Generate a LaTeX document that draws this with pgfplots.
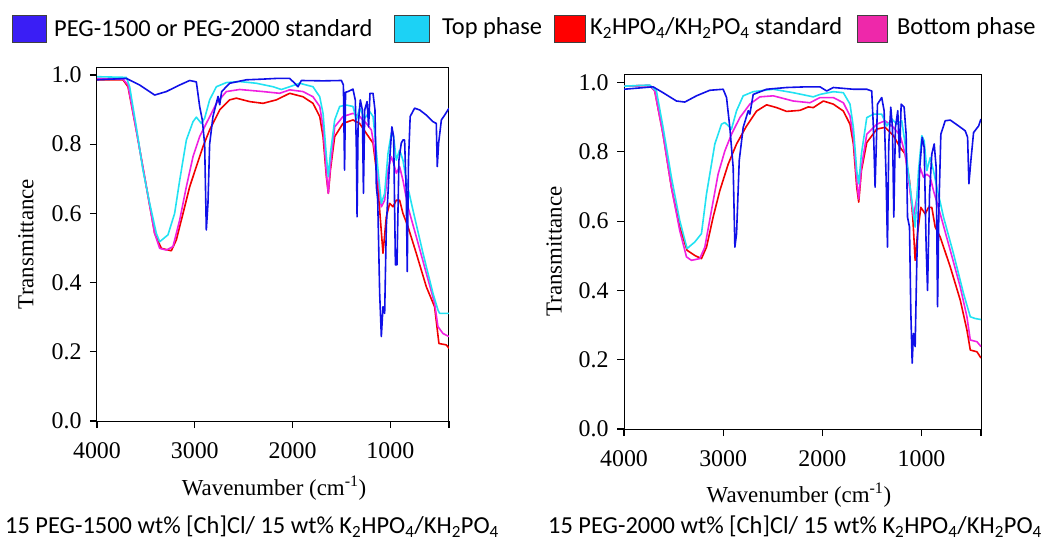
\documentclass[border=0pt]{standalone}
\usepackage{fontspec}
\setmainfont{Liberation Serif}
\newfontfamily\sansf{Carlito}
\usepackage{pgfplots}
\pgfplotsset{compat=1.18}
\definecolor{cBlue}{HTML}{1010E8}
\definecolor{cCyan}{HTML}{22E2F2}
\definecolor{cRed}{HTML}{F20000}
\definecolor{cMag}{HTML}{F020E0}
\definecolor{bBlue}{HTML}{3A1EF5}
\definecolor{bCyan}{HTML}{1CD2F5}
\definecolor{bRed}{HTML}{FF0000}
\definecolor{bMag}{HTML}{EE28AA}
\pgfplotsset{ftir/.style={
  scale only axis,
  xmin=400, xmax=4000, x dir=reverse, ymin=0,
  xtick={4000,3000,2000,1000,400}, xticklabels={4000,3000,2000,1000,{}},
  ytick={0,0.2,0.4,0.6,0.8,1.0}, yticklabels={0.0,0.2,0.4,0.6,0.8,1.0},
  axis line style={black, line width=1bp},
  every tick label/.append style={font=\fontsize{24}{27}\selectfont},
  label style={font=\fontsize{23}{26}\selectfont},
  ylabel={Transmittance},
  xlabel={Wavenumber (cm\textsuperscript{-1})},
  every axis plot/.append style={line width=1.6bp, line join=round},
}}
\begin{document}
\begin{tikzpicture}
\path[use as bounding box] (0,0) rectangle (1041bp,-542bp);
% ---------------- left panel
\begin{axis}[ftir, at={(97bp,-421bp)}, anchor=south west,
  width=352bp, height=354bp, ymax=1.023,
  tick pos=left, tick align=outside, major tick length=7bp,
  tick style={black, line width=1.1bp},
  xticklabel style={yshift=-11bp}, yticklabel style={xshift=-5bp},
  ylabel style={at={(axis description cs:-0.202,0.5)}, anchor=center},
  xlabel style={at={(axis description cs:0.503,-0.189)}, anchor=center}]
\addplot[cRed] coordinates {
(4000,0.986)(3734,0.986)(3683,0.966)(3598,0.84)(3495,0.677)(3410,0.542)(3342,0.499)(3240,0.492)(3189,0.523)(3120,0.60)(3052,0.677)(2984,0.735)(2916,0.793)(2848,0.841)(2745,0.899)(2643,0.928)(2575,0.933)(2439,0.923)(2302,0.918)(2166,0.928)(2029,0.947)(1893,0.937)(1791,0.918)(1722,0.88)(1688,0.822)(1654,0.706)(1634,0.658)(1613,0.725)(1569,0.822)(1484,0.86)(1382,0.87)(1314,0.86)(1245,0.831)(1177,0.803)(1143,0.725)(1109,0.61)(1075,0.485)(1041,0.59)(1007,0.629)(973,0.619)(939,0.638)(905,0.638)(871,0.60)(820,0.562)(735,0.485)(632,0.388)(547,0.33)(503,0.224)(428,0.22)(400,0.21)};
\addplot[cMag] coordinates {
(4000,0.99)(3734,0.988)(3683,0.971)(3598,0.84)(3495,0.677)(3410,0.542)(3359,0.499)(3291,0.494)(3223,0.504)(3154,0.581)(3086,0.677)(3018,0.764)(2950,0.822)(2882,0.86)(2779,0.918)(2677,0.952)(2541,0.958)(2302,0.952)(2132,0.947)(2029,0.957)(1893,0.952)(1791,0.937)(1722,0.909)(1688,0.85)(1654,0.716)(1634,0.658)(1613,0.735)(1569,0.85)(1484,0.88)(1382,0.889)(1314,0.88)(1245,0.86)(1194,0.841)(1160,0.783)(1126,0.696)(1092,0.619)(1058,0.638)(1024,0.725)(990,0.764)(966,0.745)(939,0.716)(905,0.735)(871,0.696)(820,0.619)(735,0.533)(632,0.427)(547,0.34)(513,0.273)(462,0.253)(400,0.244)};
\addplot[cCyan] coordinates {
(4000,0.995)(3700,0.993)(3666,0.966)(3598,0.85)(3530,0.725)(3461,0.629)(3393,0.542)(3359,0.518)(3274,0.538)(3206,0.60)(3154,0.696)(3086,0.812)(3018,0.865)(2984,0.878)(2933,0.86)(2899,0.875)(2848,0.928)(2779,0.966)(2677,0.978)(2541,0.981)(2370,0.976)(2200,0.966)(2115,0.958)(2029,0.966)(1927,0.976)(1791,0.966)(1722,0.937)(1688,0.889)(1654,0.764)(1634,0.706)(1613,0.773)(1569,0.87)(1518,0.909)(1450,0.913)(1382,0.909)(1348,0.87)(1314,0.904)(1262,0.875)(1211,0.894)(1177,0.88)(1150,0.803)(1126,0.725)(1092,0.629)(1058,0.658)(1024,0.773)(990,0.831)(966,0.822)(939,0.754)(905,0.783)(871,0.754)(837,0.696)(769,0.61)(666,0.485)(564,0.369)(513,0.321)(496,0.311)(400,0.311)};
\addplot[cBlue] coordinates {
(4000,0.986)(3700,0.99)(3564,0.971)(3410,0.942)(3291,0.952)(3154,0.971)(3052,0.984)(2984,0.98)(2950,0.909)(2923,0.87)(2899,0.80)(2882,0.552)(2865,0.629)(2848,0.80)(2814,0.88)(2762,0.938)(2745,0.914)(2725,0.952)(2643,0.976)(2473,0.986)(2302,0.988)(2166,0.99)(2029,0.99)(1978,0.976)(1944,0.966)(1910,0.984)(1688,0.983)(1500,0.984)(1480,0.971)(1468,0.725)(1458,0.95)(1433,0.952)(1382,0.959)(1358,0.927)(1348,0.793)(1340,0.59)(1330,0.85)(1307,0.928)(1286,0.899)(1275,0.658)(1262,0.899)(1238,0.923)(1222,0.85)(1208,0.947)(1177,0.947)(1157,0.899)(1143,0.677)(1129,0.639)(1109,0.369)(1092,0.244)(1075,0.33)(1058,0.311)(1041,0.562)(1007,0.754)(984,0.85)(966,0.822)(948,0.451)(932,0.451)(912,0.754)(888,0.803)(871,0.812)(854,0.812)(837,0.658)(827,0.432)(814,0.754)(797,0.88)(752,0.904)(700,0.899)(632,0.884)(564,0.865)(530,0.86)(520,0.735)(506,0.803)(478,0.87)(444,0.884)(400,0.904)};
\end{axis}
% ---------------- right panel
\begin{axis}[ftir, at={(624bp,-429bp)}, anchor=south west,
  width=357bp, height=355bp, ymax=1.025,
  tick pos=left, tick align=outside, major tick length=7bp,
  tick style={black, line width=1.1bp},
  xticklabel style={yshift=-11bp}, yticklabel style={xshift=-5bp},
  ylabel style={at={(axis description cs:-0.196,0.5)}, anchor=center},
  xlabel style={at={(axis description cs:0.49,-0.186)}, anchor=center}]
\addplot[cRed] coordinates {
(4000,0.99)(3741,0.992)(3690,0.976)(3606,0.851)(3522,0.698)(3438,0.583)(3364,0.516)(3286,0.501)(3219,0.492)(3168,0.525)(3101,0.612)(3034,0.688)(2949,0.765)(2865,0.823)(2764,0.875)(2663,0.918)(2562,0.936)(2461,0.928)(2360,0.917)(2226,0.92)(2141,0.93)(2091,0.928)(1990,0.947)(1889,0.938)(1788,0.918)(1721,0.88)(1687,0.823)(1653,0.698)(1633,0.655)(1606,0.746)(1552,0.827)(1451,0.866)(1367,0.871)(1283,0.847)(1215,0.813)(1165,0.794)(1121,0.717)(1088,0.612)(1064,0.487)(1040,0.564)(1007,0.64)(963,0.621)(929,0.64)(896,0.64)(862,0.583)(811,0.554)(710,0.468)(609,0.372)(542,0.286)(508,0.228)(441,0.223)(400,0.205)};
\addplot[cMag] coordinates {
(4000,0.99)(3741,0.992)(3690,0.976)(3606,0.851)(3522,0.698)(3438,0.573)(3370,0.497)(3320,0.487)(3236,0.492)(3185,0.525)(3118,0.631)(3051,0.736)(2983,0.803)(2916,0.851)(2832,0.899)(2731,0.938)(2630,0.959)(2495,0.962)(2293,0.947)(2125,0.942)(2024,0.957)(1889,0.957)(1788,0.942)(1721,0.904)(1687,0.842)(1653,0.717)(1633,0.664)(1606,0.755)(1552,0.851)(1451,0.88)(1367,0.89)(1283,0.871)(1215,0.847)(1165,0.794)(1121,0.698)(1081,0.612)(1047,0.669)(1013,0.755)(980,0.727)(946,0.736)(912,0.727)(879,0.688)(811,0.621)(710,0.516)(609,0.41)(542,0.324)(508,0.257)(441,0.252)(400,0.238)};
\addplot[cCyan] coordinates {
(4000,0.99)(3741,0.993)(3673,0.976)(3606,0.871)(3522,0.727)(3438,0.602)(3364,0.521)(3286,0.54)(3219,0.564)(3168,0.679)(3084,0.823)(3017,0.88)(2983,0.885)(2916,0.866)(2865,0.919)(2798,0.962)(2697,0.974)(2495,0.981)(2293,0.971)(2091,0.959)(2024,0.966)(1889,0.974)(1788,0.971)(1721,0.938)(1687,0.871)(1653,0.746)(1633,0.708)(1606,0.794)(1552,0.899)(1485,0.909)(1401,0.909)(1350,0.875)(1300,0.895)(1249,0.88)(1199,0.89)(1165,0.823)(1131,0.736)(1098,0.66)(1064,0.583)(1030,0.746)(997,0.847)(973,0.832)(946,0.746)(912,0.784)(879,0.746)(845,0.698)(778,0.612)(677,0.506)(576,0.391)(508,0.324)(458,0.319)(400,0.316)};
\addplot[cBlue] coordinates {
(4000,0.981)(3707,0.988)(3606,0.971)(3471,0.947)(3387,0.944)(3269,0.962)(3135,0.978)(3000,0.981)(2966,0.957)(2933,0.871)(2899,0.755)(2882,0.525)(2865,0.564)(2838,0.775)(2798,0.871)(2747,0.919)(2731,0.909)(2697,0.966)(2562,0.981)(2360,0.986)(2158,0.988)(2024,0.988)(1956,0.976)(1889,0.986)(1687,0.981)(1552,0.981)(1502,0.976)(1485,0.871)(1468,0.698)(1444,0.938)(1401,0.957)(1377,0.919)(1357,0.727)(1343,0.525)(1330,0.823)(1310,0.929)(1293,0.871)(1279,0.612)(1263,0.871)(1239,0.919)(1222,0.784)(1205,0.938)(1175,0.929)(1155,0.851)(1141,0.612)(1121,0.583)(1108,0.343)(1094,0.19)(1081,0.276)(1064,0.238)(1047,0.487)(1020,0.746)(993,0.842)(973,0.813)(953,0.525)(939,0.40)(919,0.679)(896,0.794)(872,0.823)(852,0.755)(838,0.353)(825,0.631)(805,0.851)(761,0.89)(710,0.892)(626,0.875)(559,0.861)(535,0.842)(522,0.708)(502,0.775)(475,0.856)(424,0.875)(400,0.895)};
\end{axis}
% ---------------- legend
\begin{scope}[font=\sansf\fontsize{24.5}{28}\selectfont]
\draw[black!75, line width=0.8bp, fill=bBlue] (12bp,-15bp) rectangle (46bp,-42bp);
\node[anchor=west, inner sep=0pt] at (54bp,-28bp) {PEG-1500 or PEG-2000 standard};
\draw[black!75, line width=0.8bp, fill=bCyan] (394bp,-15bp) rectangle (429bp,-42bp);
\node[anchor=west, inner sep=0pt] at (442bp,-28bp) {Top phase};
\draw[black!75, line width=0.8bp, fill=bRed] (554bp,-15bp) rectangle (585bp,-42bp);
\node[anchor=west, inner sep=0pt] at (590bp,-28bp) {K\textsubscript{2}HPO\textsubscript{4}/KH\textsubscript{2}PO\textsubscript{4} standard};
\draw[black!75, line width=0.8bp, fill=bMag] (857bp,-15bp) rectangle (887bp,-42bp);
\node[anchor=west, inner sep=0pt] at (897bp,-28bp) {Bottom phase};
% captions
\node[anchor=west, inner sep=0pt] at (5bp,-527bp) {15 PEG-1500 wt\% [Ch]Cl/ 15 wt\% K\textsubscript{2}HPO\textsubscript{4}/KH\textsubscript{2}PO\textsubscript{4}};
\node[anchor=west, inner sep=0pt] at (548bp,-527bp) {15 PEG-2000 wt\% [Ch]Cl/ 15 wt\% K\textsubscript{2}HPO\textsubscript{4}/KH\textsubscript{2}PO\textsubscript{4}};
\end{scope}
\end{tikzpicture}
\end{document}
